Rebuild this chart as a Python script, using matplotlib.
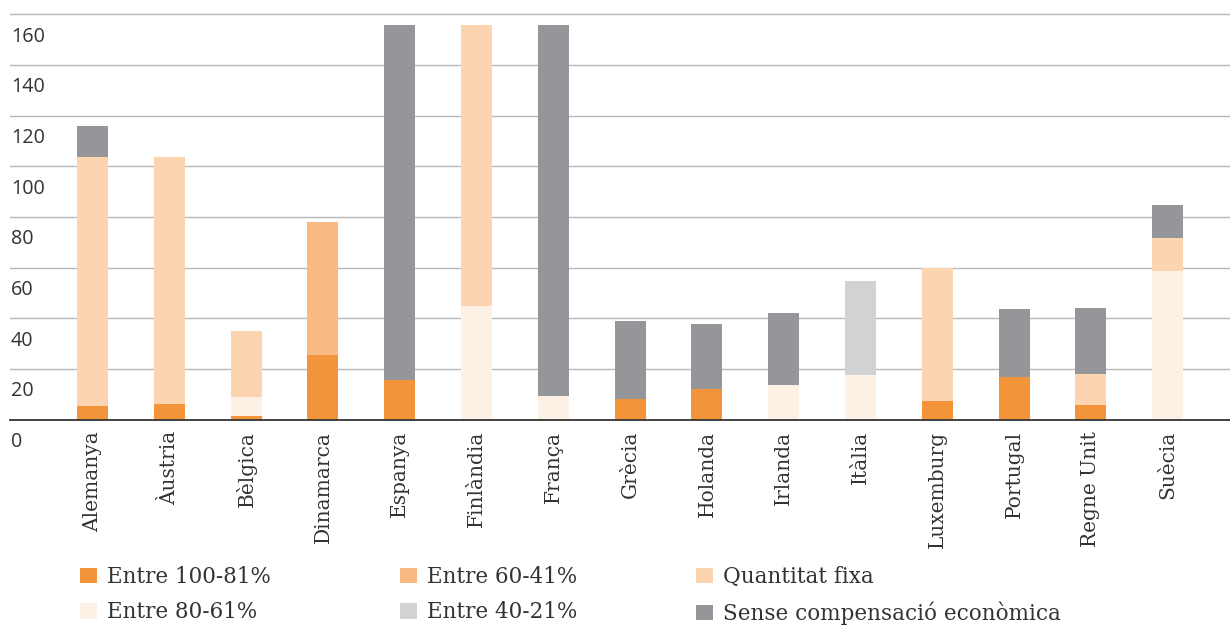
import numpy as np
import matplotlib.pyplot as plt
from matplotlib.patches import Patch
from matplotlib import transforms

ofilename = "out.png"

paisos = ["Alemanya", "Àustria", "Bèlgica", "Dinamarca", "Espanya", "Finlàndia",
          "França", "Grècia", "Holanda", "Irlanda", "Itàlia", "Luxemburg",
          "Portugal", "Regne Unit", "Suècia"]

# setmanes per tram de compensació (llegit del gràfic)
entre_100_81 = [5.4, 6.2, 1.5, 25.5, 15.8, 0, 0, 8.2, 12.1, 0, 0, 7.4, 16.9, 5.8, 0]
entre_80_61 = [0, 0, 7.5, 0, 0, 45.0, 9.4, 0, 0, 13.7, 17.6, 0, 0, 0, 58.7]
entre_60_41 = [0, 0, 0, 52.5, 0, 0, 0, 0, 0, 0, 0, 0, 0, 0, 0]
entre_40_21 = [0, 0, 0, 0, 0, 0, 0, 0, 0, 0, 37.1, 0, 0, 0, 0]
quantitat_fixa = [98.3, 97.5, 26.0, 0, 0, 110.8, 0, 0, 0, 0, 0, 52.6, 0, 12.2, 13.0]
sense_compensacio = [12.2, 0, 0, 0, 140.0, 0, 146.4, 30.8, 25.7, 28.4, 0, 0, 26.8, 26.1, 13.0]

series = [
    ("Entre 100-81%", entre_100_81, "#f4943a"),
    ("Entre 80-61%", entre_80_61, "#fdf0e4"),
    ("Entre 60-41%", entre_60_41, "#f9b982"),
    ("Entre 40-21%", entre_40_21, "#d1d2d4"),
    ("Quantitat fixa", quantitat_fixa, "#fcd5b0"),
    ("Sense compensació econòmica", sense_compensacio, "#959699"),
]

yticks = [0, 20, 40, 60, 80, 100, 120, 140, 160]

fig = plt.figure(figsize=(12.3, 6.25), dpi=100)
ax = fig.add_axes([10 / 1230, 0.3285, 1 - 10 / 1230, 0.981 - 0.3285])

x = np.arange(len(paisos))
bottom = np.zeros(len(paisos))
for nom, vals, col in series:
    vals = np.array(vals, dtype=float)
    ax.bar(x, vals, width=0.404, bottom=bottom, color=col, linewidth=0, zorder=3)
    bottom += vals

ax.set_xlim(-1.074, 14.81)
ax.set_ylim(0, 161)

# graella
ax.set_yticks(yticks[1:])
ax.yaxis.grid(True, color="#b8b8b8", linewidth=1.0, zorder=0)
ax.tick_params(axis="y", length=0, labelleft=False)
for s in ["top", "left", "right"]:
    ax.spines[s].set_visible(False)
ax.spines["bottom"].set_color("#333333")
ax.spines["bottom"].set_linewidth(1.3)
ax.spines["bottom"].set_zorder(4)

# etiquetes y, per sota de la línia
trans = transforms.offset_copy(ax.get_yaxis_transform(), fig=fig, x=1, y=-27.4, units="dots")
for v in yticks:
    ax.text(0, v, str(v), transform=trans, ha="left", va="baseline",
            fontsize=14.2, family="Open Sans", color="#333333")

ax.set_xticks(x)
ax.set_xticklabels(paisos, rotation=90, family="DejaVu Serif", fontsize=14.5, color="#333333")
ax.tick_params(axis="x", length=0, pad=8)

# llegenda en tres columnes
handles = [Patch(facecolor=c, edgecolor="none", label=n) for n, v, c in series]
cols_x = [80, 400, 696]
for i, cx in enumerate(cols_x):
    fig.legend(handles=handles[2 * i:2 * i + 2], loc="upper left",
               bbox_to_anchor=(cx / 1230, (625 - 566) / 625), frameon=False,
               borderpad=0, borderaxespad=0, handlelength=0.79, handleheight=0.74,
               handletextpad=0.47, labelspacing=0.62,
               prop={"family": "DejaVu Serif", "size": 15.5}, labelcolor="#333333")

plt.savefig(ofilename, dpi=100)
